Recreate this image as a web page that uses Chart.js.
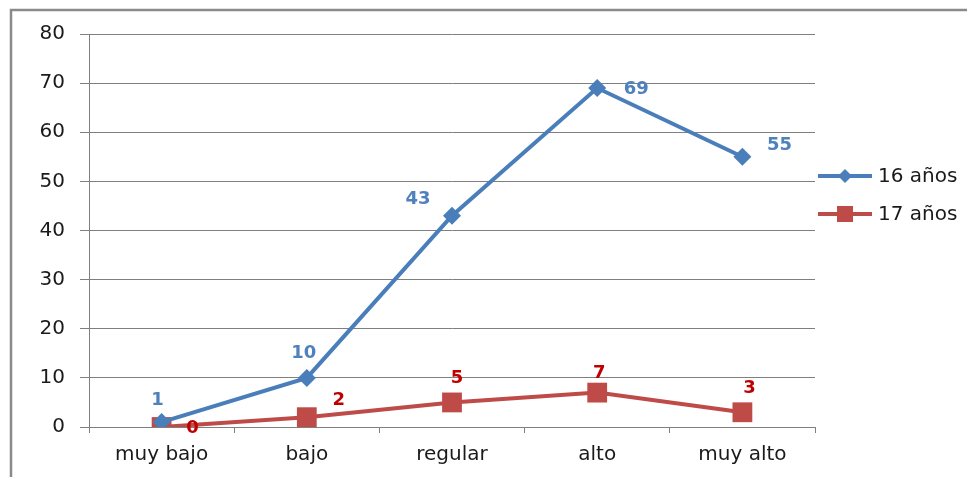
<!DOCTYPE html>
<html>
<head>
<meta charset="utf-8">
<script src="https://cdn.jsdelivr.net/npm/chart.js@4/dist/chart.umd.min.js"></script>
<style>
  body { margin: 0; background: #fff; }
  #wrap { width: 967px; height: 477px; position: relative; }
</style>
</head>
<body>
<div id="wrap"><canvas id="myChart" width="967" height="477"></canvas></div>
<script>
'use strict';
const categories = ['muy bajo', 'bajo', 'regular', 'alto', 'muy alto'];
const seriesNames = ['16 años', '17 años'];
const values16 = [1, 10, 43, 69, 55];
const values17 = [0, 2, 5, 7, 3];
const yTicks = [0, 10, 20, 30, 40, 50, 60, 70, 80];

// where each value label sits relative to its point (px)
const labelOffsets16 = [[-4, -22], [-3, -25], [-34, -16], [39, 1], [37, -11]];
const labelOffsets17 = [[31, 1], [32, -17], [5, -24], [2, -19], [7, -24]];

const blue = '#4A7EBB';
const red = '#BE4B48';
const font = 'DejaVu Sans';

// frame, value labels and legend drawn by hand
const extras = {
  id: 'extras',
  beforeDraw(chart) {
    const ctx = chart.ctx;
    ctx.save();
    ctx.fillStyle = '#fff';
    ctx.fillRect(0, 0, chart.width, chart.height);
    ctx.strokeStyle = '#8a8a8a';
    ctx.lineWidth = 2.5;
    ctx.beginPath();
    ctx.moveTo(11, chart.height);
    ctx.lineTo(11, 10);
    ctx.lineTo(chart.width, 10);
    ctx.stroke();
    ctx.restore();
  },
  afterDatasetsDraw(chart) {
    const ctx = chart.ctx;
    ctx.save();
    ctx.font = 'bold 18px "' + font + '"';
    ctx.textAlign = 'center';
    ctx.textBaseline = 'middle';
    const offs = [labelOffsets16, labelOffsets17];
    const cols = ['#4F81BD', '#C00000'];
    chart.data.datasets.forEach(function (ds, i) {
      const meta = chart.getDatasetMeta(i);
      ctx.fillStyle = cols[i];
      meta.data.forEach(function (pt, j) {
        ctx.fillText(String(ds.data[j]), pt.x + offs[i][j][0], pt.y + offs[i][j][1]);
      });
    });

    // legend
    const lx = 818, ys = [176, 214];
    chart.data.datasets.forEach(function (ds, i) {
      const y = ys[i];
      ctx.strokeStyle = ds.borderColor;
      ctx.lineWidth = 4;
      ctx.beginPath();
      ctx.moveTo(lx, y);
      ctx.lineTo(lx + 54, y);
      ctx.stroke();
      ctx.fillStyle = ds.backgroundColor;
      const cx = lx + 27;
      if (i === 0) {
        ctx.beginPath();
        ctx.moveTo(cx - 7, y); ctx.lineTo(cx, y - 7); ctx.lineTo(cx + 7, y); ctx.lineTo(cx, y + 7);
        ctx.closePath();
        ctx.fill();
      } else {
        ctx.fillRect(cx - 8, y - 8, 16, 16);
      }
      ctx.fillStyle = '#1a1a1a';
      ctx.font = '20px "' + font + '"';
      ctx.textAlign = 'left';
      ctx.fillText(ds.label, lx + 60, y + 1);
    });
    ctx.restore();
  }
};

new Chart(document.getElementById('myChart').getContext('2d'), {
  type: 'line',
  data: {
    labels: categories,
    datasets: [{
      label: seriesNames[0],
      data: values16,
      borderColor: blue,
      backgroundColor: blue,
      borderWidth: 4,
      pointStyle: 'rectRot',
      pointRadius: 9,
      pointBorderWidth: 0,
      tension: 0
    }, {
      label: seriesNames[1],
      data: values17,
      borderColor: red,
      backgroundColor: red,
      borderWidth: 4,
      pointStyle: 'rect',
      pointRadius: 14,
      pointBorderWidth: 0,
      tension: 0
    }]
  },
  options: {
    responsive: false,
    animation: false,
    layout: { padding: { left: 0, right: 152, top: 34, bottom: 0 } },
    plugins: { legend: { display: false }, tooltip: { enabled: false } },
    scales: {
      x: {
        offset: true,
        grid: { offset: true, drawOnChartArea: false, color: '#7f7f7f', tickLength: 6 },
        border: { color: '#7f7f7f' },
        ticks: { color: '#1a1a1a', font: { family: font, size: 20 }, padding: 10 },
        afterFit(scale) { scale.height = 50; }
      },
      y: {
        min: 0,
        max: 80,
        afterBuildTicks(scale) { scale.ticks = yTicks.map(function (v) { return { value: v }; }); },
        grid: { color: '#7f7f7f', tickLength: 9 },
        border: { color: '#7f7f7f' },
        ticks: { color: '#1a1a1a', font: { family: font, size: 20 }, padding: 15 },
        afterFit(scale) { scale.width = 89; }
      }
    }
  },
  plugins: [extras]
});
</script>
</body>
</html>
